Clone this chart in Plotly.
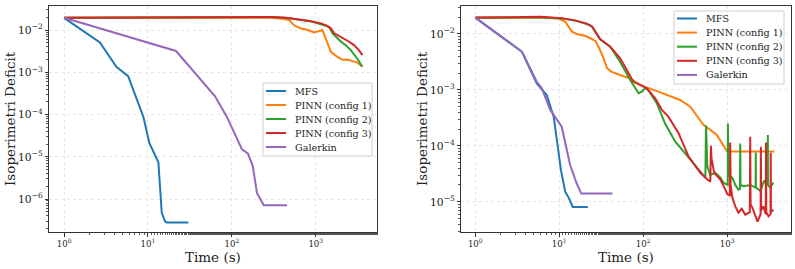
import plotly.graph_objects as go
from plotly.subplots import make_subplots

# ---------------- Left panel data ----------------
L_mfs_t = [1, 2.67, 4.2, 5.8, 8.8, 10.4, 13.3, 14.6, 15.9, 16.7, 30.3]
L_mfs_d = [0.0195, 5.1e-3, 1.35e-3, 8.1e-4, 8.9e-5, 2.1e-5, 7.4e-6, 4.7e-7, 3.0e-7, 2.8e-7, 2.8e-7]

L_gal_t = [1, 21.6, 63, 87, 132, 155, 177, 199, 240, 455]
L_gal_d = [0.0195, 3.2e-3, 2.7e-4, 8.9e-5, 1.5e-5, 1.2e-5, 6.2e-6, 1.4e-6, 7.1e-7, 7.1e-7]

L_p1_t = [1, 3, 10, 30, 100, 200, 291, 400, 480, 550, 660, 800, 955, 1100, 1200, 1315, 1510,
          1810, 2080, 2380, 2730, 3130, 3500]
L_p1_d = [0.0195, 0.0196, 0.0198, 0.0199, 0.0201, 0.0201, 0.0195, 0.0186, 0.0173, 0.0131, 0.011,
          0.0100, 0.0088, 0.0095, 0.0100, 0.0063, 0.00305, 0.00233, 0.00198, 0.0020, 0.00184,
          0.0017, 0.00142]

L_p2_t = [1, 10, 50, 100, 200, 300, 450, 600, 720, 850, 960, 1100, 1300, 1440, 1580, 1800,
          1980, 2300, 2600, 3130, 3600]
L_p2_d = [0.0195, 0.0198, 0.0203, 0.0207, 0.0207, 0.0203, 0.0192, 0.0180, 0.0172, 0.0162,
          0.0152, 0.0140, 0.0128, 0.0120, 0.0085, 0.0066, 0.0054, 0.0043, 0.0034, 0.0021, 0.00135]

L_p3_t = [1, 10, 50, 100, 200, 300, 450, 600, 720, 850, 960, 1150, 1350, 1510, 1650, 1900,
          2170, 2500, 2850, 3250, 3600]
L_p3_d = [0.0196, 0.0200, 0.0205, 0.0210, 0.0210, 0.0205, 0.0195, 0.0183, 0.0175, 0.0165,
          0.0156, 0.0144, 0.0128, 0.0110, 0.0085, 0.0073, 0.0064, 0.0053, 0.0044, 0.0034, 0.00255]

# ---------------- Right panel data ----------------
R_mfs_t = [1, 3.6, 5.4, 7.1, 8.6, 9.8, 10.5, 11.8, 12.9, 14.5, 21.9]
R_mfs_d = [0.0196, 4.8e-3, 1.3e-3, 8.1e-4, 3.3e-4, 8.3e-5, 3.6e-5, 1.5e-5, 1.2e-5, 8.1e-6, 8.1e-6]

R_gal_t = [1, 3.6, 5.4, 6.2, 7.8, 10.7, 13.5, 16.2, 18.3, 43]
R_gal_d = [0.0196, 4.8e-3, 1.4e-3, 1.07e-3, 4.4e-4, 2.2e-4, 4.5e-5, 2.1e-5, 1.4e-5, 1.4e-5]

R_p1_t = [1, 3, 6, 9.8, 11.8, 12.9, 14.2, 16.2, 20.6, 23.8, 27, 30, 33.7, 37, 42, 53, 70, 84,
          101, 133, 190, 275, 363, 518, 754, 965, 1000, 3620]
R_p1_d = [0.0195, 0.0196, 0.0195, 0.0190, 0.0165, 0.0135, 0.0110, 0.0100, 0.0092, 0.0083,
          7.5e-3, 5.5e-3, 3.7e-3, 2.45e-3, 2.1e-3, 1.85e-3, 1.6e-3, 1.32e-3, 1.15e-3, 1.0e-3,
          8.1e-4, 6.6e-4, 5.0e-4, 2.4e-4, 1.57e-4, 8.2e-5, 7.9e-5, 7.9e-5]

R_p2_t = [1, 3, 6, 10.7, 15.5, 21.3, 24.5, 30.8, 40.5, 53, 70, 88, 96, 106, 116, 145, 182,
          240, 290, 363, 478, 550, 559, 560, 580, 630, 720, 830, 900, 990, 1015, 1020, 1030,
          1150, 1250, 1360, 1420, 1430, 1440, 1570, 1890, 2150, 2180, 2190, 2200, 2500, 2750,
          2950, 3040, 3050, 3060, 3250, 3550]
R_p2_d = [0.0195, 0.0198, 0.0200, 0.0190, 0.0173, 0.0150, 0.0135, 8.0e-3, 5.9e-3, 3.2e-3,
          1.5e-3, 8.7e-4, 9.3e-4, 1.08e-3, 9.7e-4, 5.8e-4, 2.5e-4, 1.2e-4, 8.5e-5, 5.6e-5,
          3.5e-5, 2.7e-5, 2.3e-4, 2.27e-4, 4.3e-5, 3.0e-5, 3.3e-5, 2.7e-5, 2.2e-5, 2.0e-5,
          2.0e-5, 2.5e-4, 3.0e-5, 2.7e-5, 2.0e-5, 1.65e-5, 1.7e-5, 1.1e-4, 2.0e-5, 1.9e-5,
          2.0e-5, 1.8e-5, 1.8e-5, 7.6e-5, 1.8e-5, 1.55e-5, 2.4e-5, 2.0e-5, 2.0e-5, 1.57e-4,
          2.0e-5, 1.8e-5, 2.2e-5]

R_p3_t = [1, 3, 6, 10.7, 15.5, 21.3, 24.5, 30.8, 40.5, 53, 63.5, 76.5, 92, 110, 139, 167, 200,
          263, 346, 478, 580, 630, 640, 650, 700, 830, 950, 1010, 1075, 1085, 1100, 1150, 1250,
          1360, 1490, 1640, 1860, 1880, 1900, 2000, 2300, 2500, 2520, 2540, 2700, 2880, 2900,
          2920, 3100, 3280, 3300, 3320, 3550]
R_p3_d = [0.0196, 0.0200, 0.0203, 0.0192, 0.0175, 0.0153, 0.0138, 8.0e-3, 5.9e-3, 3.7e-3,
          2.27e-3, 1.4e-3, 1.23e-3, 1.08e-3, 7.1e-4, 4.4e-4, 3.3e-4, 1.7e-4, 6.5e-5, 3.3e-5,
          2.5e-5, 2.3e-5, 1.0e-4, 6.0e-5, 3.3e-5, 2.5e-5, 1.65e-5, 1.35e-5, 1.3e-5, 1.15e-4,
          2.0e-5, 1.2e-5, 8.3e-6, 6.4e-6, 7.5e-6, 5.9e-6, 6.5e-6, 1.45e-4, 9.0e-6, 7.8e-6,
          4.4e-6, 6.0e-6, 9.6e-5, 7.0e-6, 8.3e-6, 6.0e-6, 1.15e-4, 6.5e-6, 5.5e-6, 6.0e-6,
          7.5e-5, 6.5e-6, 7.2e-6]

names = ["MFS", "PINN (config 1)", "PINN (config 2)", "PINN (config 3)", "Galerkin"]
colors = ["#1f77b4", "#ff7f0e", "#2ca02c", "#d62728", "#9467bd"]

x_tickvals = [1, 10, 100, 1000]
x_ticktext = ["10<sup>0</sup>", "10<sup>1</sup>", "10<sup>2</sup>", "10<sup>3</sup>"]
x_title = "Time (s)"
y_title = "Isoperimetri Deficit"

left = [(L_mfs_t, L_mfs_d), (L_p1_t, L_p1_d), (L_p2_t, L_p2_d), (L_p3_t, L_p3_d), (L_gal_t, L_gal_d)]
right = [(R_mfs_t, R_mfs_d), (R_p1_t, R_p1_d), (R_p2_t, R_p2_d), (R_p3_t, R_p3_d), (R_gal_t, R_gal_d)]

FONT = "DejaVu Serif"
W, H = 795, 269
ML, MR, MT, MB = 49, 4, 6, 37
PW = W - ML - MR
PH = H - MT - MB


def px(xp):
    return (xp - ML) / PW


def py(yp):
    return 1 - (yp - MT) / PH


fig = make_subplots(rows=1, cols=2, horizontal_spacing=0)

for (t, d), n, c in zip(left, names, colors):
    fig.add_trace(go.Scatter(x=t, y=d, mode="lines", name=n, line=dict(color=c, width=2),
                             showlegend=False), row=1, col=1)
for (t, d), n, c in zip(right, names, colors):
    fig.add_trace(go.Scatter(x=t, y=d, mode="lines", name=n, line=dict(color=c, width=2),
                             showlegend=False), row=1, col=2)

xdom_l = [0, px(377)]
xdom_r = [px(461), 1]

axis_common = dict(type="log", showline=True, linecolor="#333", linewidth=1, mirror=True,
                   ticks="outside", ticklen=3.5, tickcolor="#333",
                   showgrid=True, gridcolor="#e6e6e6",
                   griddash="3px,3px", gridwidth=1, zeroline=False,
                   minor=dict(ticks="outside", ticklen=2, tickcolor="#555", showgrid=False),
                   tickfont=dict(family=FONT, size=8.6, color="#222"))

fig.update_xaxes(**axis_common, tickvals=x_tickvals, ticktext=x_ticktext)
fig.update_yaxes(**axis_common, dtick=1, exponentformat="power")

shapes = []
annotations = []

# axis titles placed like matplotlib's
for xc in (213, 626):
    annotations.append(dict(xref="paper", yref="paper", x=px(xc), y=py(257), text=x_title,
                            showarrow=False, xanchor="center", yanchor="middle",
                            font=dict(family=FONT, size=13.5, color="#222")))
for xc in (10, 422):
    annotations.append(dict(xref="paper", yref="paper", x=px(xc), y=py(119), text=y_title,
                            showarrow=False, xanchor="center", yanchor="middle", textangle=-90,
                            font=dict(family=FONT, size=13.5, color="#222")))

# ---- matplotlib-style legends drawn in paper coordinates ----
legend_specs = [
    # box left, box top, box right, box bottom, first entry centre y, step
    (263, 83, 372, 156, 91, 14),
    (674, 11, 784, 84, 18.5, 14.1),
]
for (bl, bt, br, bb, y0, step) in legend_specs:
    shapes.append(dict(type="rect", xref="paper", yref="paper",
                       x0=px(bl), x1=px(br), y0=py(bb), y1=py(bt),
                       fillcolor="rgba(255,255,255,0.85)", line=dict(color="#d0d0d0", width=1),
                       layer="above"))
    for i, (n, c) in enumerate(zip(names, colors)):
        yc = y0 + i * step
        shapes.append(dict(type="line", xref="paper", yref="paper",
                           x0=px(bl + 3), x1=px(bl + 23), y0=py(yc), y1=py(yc),
                           line=dict(color=c, width=2), layer="above"))
        annotations.append(dict(xref="paper", yref="paper", x=px(bl + 30), y=py(yc),
                                xanchor="left", yanchor="middle", text=n, showarrow=False,
                                font=dict(family=FONT, size=9.6, color="#222")))

fig.update_layout(
    xaxis=dict(domain=xdom_l, range=[-0.18, 3.73]),
    xaxis2=dict(domain=xdom_r, range=[-0.17, 3.76]),
    yaxis=dict(range=[-6.78, -1.43]),
    yaxis2=dict(range=[-5.54, -1.5]),
    width=W, height=H,
    margin=dict(l=ML, r=MR, t=MT, b=MB),
    paper_bgcolor="white", plot_bgcolor="white",
    font=dict(family=FONT, color="#222"),
    showlegend=False,
    shapes=shapes,
    annotations=annotations,
)

fig.write_html("out.html")
